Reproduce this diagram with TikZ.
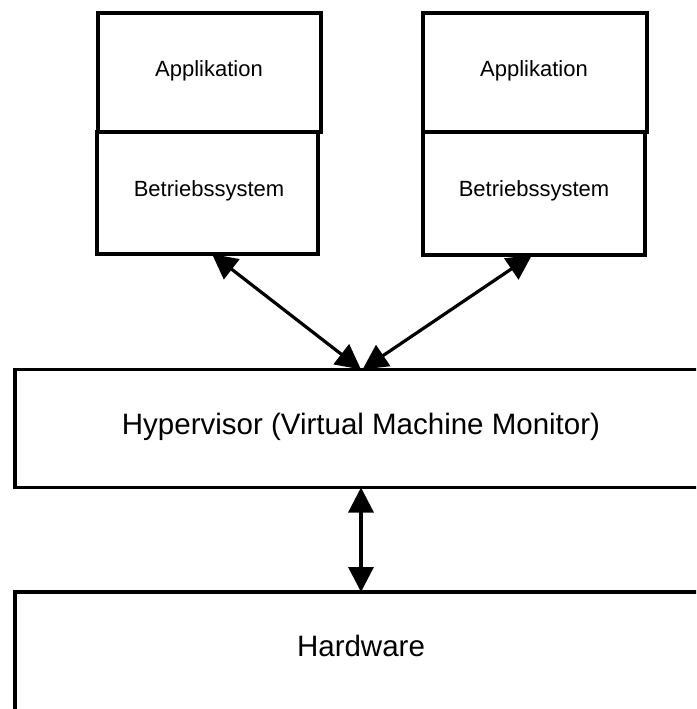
\documentclass[tikz,border=0pt]{standalone}
\usepackage{fontspec}
\setmainfont{Liberation Sans}
\usetikzlibrary{arrows.meta}

\tikzset{
  layer/.style={draw, line width=3.2pt, inner sep=0pt, outer sep=0pt, fill=white},
  smalltext/.style={anchor=base, inner sep=0pt, font=\fontsize{22}{26}\selectfont},
  bigtext/.style={anchor=base, inner sep=0pt, font=\fontsize{29.5}{34}\selectfont},
  link/.style={line width=3.2pt, {Triangle[length=25pt,width=25pt]}-{Triangle[length=25pt,width=25pt]}}
}

\begin{document}
\begin{tikzpicture}[x=1pt, y=-1pt]
  \useasboundingbox (0,0) rectangle (696,709);
  \fill[white] (0,0) rectangle (696,709);
  \clip (0,0) rectangle (696,709);

  % guest stacks
  \node[layer, minimum width=223pt, minimum height=119pt] (app1) at (209.5,72.5) {};
  \node[layer, minimum width=221pt, minimum height=122pt] (os1)  at (207.5,193) {};
  \node[layer, minimum width=224pt, minimum height=119pt] (app2) at (535,72.5) {};
  \node[layer, minimum width=222pt, minimum height=123pt] (os2)  at (534,193.5) {};
  \draw[line width=3.2pt] (app1.south west) -- (app1.south east);
  \draw[line width=3.2pt] (app2.south west) -- (app2.south east);

  % hypervisor and hardware
  \node[layer, minimum width=692pt, minimum height=118pt] (hyp) at (361,428.5) {};
  \node[layer, minimum width=692pt, minimum height=150pt] (hw)  at (361,667) {};

  % labels
  \node[smalltext] (t-app1) at (209,76) {Applikation};
  \node[smalltext] (t-os1)  at (209,196.5) {Betriebssystem};
  \node[smalltext] (t-app2) at (534,76) {Applikation};
  \node[smalltext] (t-os2)  at (534,196.5) {Betriebssystem};
  \node[bigtext]   (t-hyp)  at (361,434) {Hypervisor (Virtual Machine Monitor)};
  \node[bigtext]   (t-hw)   at (361,656) {Hardware};

  % connections
  \draw[link] ([xshift=4.5pt]os1.south) -- ([xshift=0pt]hyp.north);
  \draw[link] ([xshift=-2pt]os2.south) -- ([xshift=1.5pt]hyp.north);
  \draw[link] (hyp.south) -- (hw.north);
\end{tikzpicture}
\end{document}
